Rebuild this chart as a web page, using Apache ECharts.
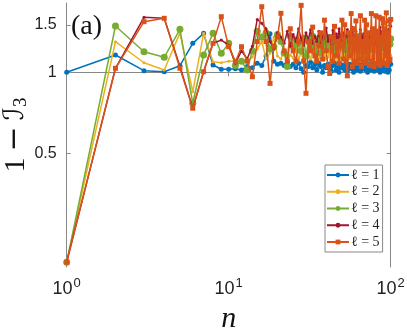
<!DOCTYPE html>
<html>
<head>
<meta charset="utf-8">
<script src="https://cdn.jsdelivr.net/npm/echarts@6/dist/echarts.min.js"></script>
<style>
  html, body { margin: 0; padding: 0; background: #fff; }
  #chart { width: 407px; height: 332px; }
</style>
</head>
<body>
<div id="chart"></div>
<script>
// n = 1..100
var nList = [];
for (var k = 1; k <= 100; k++) nList.push(k);

// 1 - I3 for each l
var l1 = [1.0, 1.159, 1.014, 1.005, 1.058, 1.28, 1.394, 1.064, 1.026, 1.026,
  1.03, 1.02, 1.05, 1.04, 1.08, 1.06, 1.15, 1.39, 1.10, 1.07,
  1.08, 1.06, 1.09, 1.05, 1.07, 1.04, 1.08, 1.03, 1.00, 1.06,
  1.05, 1.09, 1.04, 1.07, 1.02, 1.08, 1.05, 1.00, 1.06, 1.04,
  1.07, 1.03, 1.01, 1.06, 1.08, 1.02, 1.05, 1.00, 1.07, 1.04,
  1.06, 1.02, 1.08, 1.01, 1.05, 1.07, 1.03, 1.06, 1.00, 1.04,
  1.08, 1.02, 1.05, 1.07, 1.01, 1.06, 1.03, 1.08, 1.04, 1.02,
  1.06, 1.00, 1.05, 1.07, 1.02, 1.06, 1.04, 1.08, 1.01, 1.05,
  1.03, 1.07, 1.02, 1.06, 1.04, 1.00, 1.05, 1.08, 1.02, 1.06,
  1.04, 1.01, 1.07, 1.03, 1.05, 1.00, 1.06, 1.02, 1.08, 1.07];
var l2 = [0.198, 1.298, 1.085, 1.02, 1.40, 0.847, 1.394, 1.095, 1.085, 1.10,
  1.10, 1.11, 1.09, 1.14, 1.22, 1.30, 1.12, 1.18, 1.35, 1.15,
  1.12, 1.20, 1.10, 1.16, 1.13, 1.25, 1.11, 1.19, 1.09, 1.14,
  1.17, 1.12, 1.21, 1.10, 1.15, 1.13, 1.18, 1.11, 1.16, 1.12,
  1.14, 1.19, 1.10, 1.17, 1.13, 1.22, 1.11, 1.15, 1.12, 1.18,
  1.13, 1.16, 1.10, 1.20, 1.14, 1.12, 1.17, 1.11, 1.15, 1.19,
  1.12, 1.16, 1.13, 1.18, 1.10, 1.15, 1.21, 1.12, 1.14, 1.17,
  1.11, 1.16, 1.13, 1.19, 1.12, 1.15, 1.10, 1.17, 1.14, 1.18,
  1.12, 1.15, 1.20, 1.11, 1.16, 1.13, 1.18, 1.12, 1.15, 1.17,
  1.13, 1.19, 1.11, 1.16, 1.14, 1.12, 1.18, 1.15, 1.13, 1.16];
var l3 = [0.198, 1.484, 1.192, 1.137, 1.443, 0.768, 1.159, 1.394, 1.176, 1.28,
  1.06, 1.10, 1.02, 1.20, 1.42, 1.35, 1.40, 1.22, 1.24, 1.38,
  1.30, 1.18, 1.05, 1.36, 1.25, 1.32, 1.28, 1.20, 1.34, 1.15,
  1.30, 1.24, 1.36, 1.20, 1.28, 1.33, 1.18, 1.30, 1.25, 1.35,
  1.22, 1.30, 1.27, 1.34, 1.19, 1.31, 1.26, 1.36, 1.23, 1.29,
  1.33, 1.21, 1.28, 1.35, 1.24, 1.30, 1.20, 1.32, 1.27, 1.34,
  1.22, 1.29, 1.36, 1.25, 1.31, 1.19, 1.33, 1.27, 1.30, 1.23,
  1.35, 1.26, 1.30, 1.21, 1.33, 1.28, 1.24, 1.36, 1.29, 1.22,
  1.31, 1.27, 1.34, 1.20, 1.30, 1.25, 1.35, 1.23, 1.32, 1.28,
  1.26, 1.33, 1.22, 1.30, 1.36, 1.24, 1.29, 1.31, 1.27, 1.33];
var l4 = [0.198, 1.035, 1.598, 1.585, 1.05, 0.736, 1.005, 1.28, 1.317, 1.26,
  1.08, 1.20, 1.12, 1.25, 1.57, 1.52, 1.45, 1.30, 1.22, 1.40,
  1.35, 1.28, 1.42, 1.25, 1.38, 1.30, 1.45, 1.33, 1.26, 1.40,
  1.32, 1.44, 1.28, 1.36, 1.30, 1.42, 1.25, 1.38, 1.34, 1.46,
  1.30, 1.37, 1.27, 1.43, 1.33, 1.39, 1.29, 1.45, 1.35, 1.31,
  1.40, 1.28, 1.36, 1.44, 1.30, 1.38, 1.33, 1.47, 1.29, 1.37,
  1.42, 1.31, 1.35, 1.28, 1.44, 1.36, 1.30, 1.39, 1.33, 1.45,
  1.29, 1.38, 1.34, 1.41, 1.30, 1.46, 1.35, 1.32, 1.40, 1.28,
  1.43, 1.36, 1.31, 1.39, 1.34, 1.47, 1.30, 1.37, 1.42, 1.33,
  1.38, 1.31, 1.45, 1.35, 1.40, 1.29, 1.44, 1.36, 1.50, 1.48];
var l5 = [0.198, 1.035, 1.54, 1.585, 1.035, 0.736, 1.005, 1.28, 1.607, 1.244,
  1.095, 1.244, 1.10, 0.963, 1.30, 1.75, 1.30, 0.91, 1.25, 1.35,
  1.654, 1.20, 1.10, 1.45, 1.20, 1.10, 1.30, 1.77, 1.10, 0.836,
  1.30, 1.20, 1.47, 1.15, 1.10, 1.25, 1.40, 1.12, 1.56, 1.20,
  1.05, 0.99, 1.35, 1.10, 1.48, 1.15, 1.30, 1.08, 1.25, 1.56,
  1.12, 1.50, 1.10, 0.97, 1.40, 1.15, 1.65, 1.05, 1.45, 1.10,
  1.55, 1.08, 1.35, 1.12, 1.62, 1.05, 1.30, 1.10, 1.56, 1.08,
  1.50, 1.12, 1.40, 1.06, 1.30, 1.65, 1.10, 1.45, 1.05, 1.38,
  1.62, 1.08, 1.42, 1.12, 1.60, 1.06, 1.35, 1.10, 1.58, 1.52,
  1.08, 1.45, 1.15, 1.66, 1.06, 1.40, 1.10, 1.55, 1.12, 1.57];

var names = ['ℓ = 1', 'ℓ = 2', 'ℓ = 3', 'ℓ = 4', 'ℓ = 5'];
var colors = ['#0072BD', '#EDB120', '#77AC30', '#A2142F', '#D95319'];
var yTicks = [0.5, 1, 1.5];

// y is drawn on log10 scale
var yMin = Math.log10(0.19);
var yMax = Math.log10(1.806);
var yTickVals = yTicks.map(function (v) { return Math.log10(v); });

function toPairs(arr) {
  return arr.map(function (v, i) { return [nList[i], Math.log10(v)]; });
}
function yFmt(v) {
  return String(Number(Math.pow(10, v).toFixed(2)));
}

var axisGray = '#888';
var sym = [
  { symbol: 'circle', size: 5 },
  { symbol: 'circle', size: 3 },
  { symbol: 'circle', size: 7 },
  { symbol: 'circle', size: 3 },
  { symbol: 'rect', size: 5 }
];
var allData = [l1, l2, l3, l4, l5];

var chart = echarts.init(document.getElementById('chart'));
chart.setOption({
  animation: false,
  grid: { left: 66.7, right: 16.3, top: 3, bottom: 65, containLabel: false, outerBoundsMode: 'none' },
  legend: {
    orient: 'vertical',
    left: 325,
    top: 165,
    data: names,
    itemWidth: 22,
    itemHeight: 6,
    itemGap: 2.75,
    padding: [3, 3, 3, 1],
    borderColor: axisGray,
    borderWidth: 1,
    backgroundColor: '#fff',
    textStyle: { fontFamily: 'Liberation Serif, DejaVu Serif, serif', fontSize: 14, lineHeight: 14, color: '#222', padding: [0, 0, 0, -3] }
  },
  graphic: [{
    type: 'text',
    left: 71,
    top: 13,
    style: { text: '(a)', font: '28px "Liberation Serif", serif', fill: '#111' }
  }],
  xAxis: [{
    type: 'log',
    logBase: 10,
    min: 1,
    max: 100,
    position: 'bottom',
    splitLine: { show: false },
    axisLine: { show: true, lineStyle: { color: axisGray } },
    axisTick: { show: true, inside: true, length: 4, lineStyle: { color: axisGray } },
    axisLabel: {
      margin: 10,
      color: '#222',
      fontFamily: 'Liberation Sans, Arial, sans-serif',
      fontSize: 18,
      formatter: function (v) { return '10{s|' + Math.round(Math.log10(v)) + '}'; },
      rich: { s: { fontSize: 13, color: '#222', fontFamily: 'Liberation Sans, Arial, sans-serif', padding: [0, 0, 12, 1] } }
    },
    name: 'n',
    nameLocation: 'middle',
    nameGap: 37,
    nameMoveOverlap: false,
    nameTextStyle: { fontFamily: 'Liberation Serif, serif', fontStyle: 'italic', fontSize: 30, color: '#111' }
  }, {
    type: 'log',
    logBase: 10,
    min: 1,
    max: 100,
    position: 'top',
    splitLine: { show: false },
    axisLine: { show: true, lineStyle: { color: axisGray } },
    axisTick: { show: true, inside: true, length: 4, lineStyle: { color: axisGray } },
    axisLabel: { show: false }
  }],
  yAxis: [{
    type: 'value',
    min: yMin,
    max: yMax,
    position: 'left',
    splitLine: { show: false },
    axisLine: { show: true, lineStyle: { color: axisGray } },
    axisTick: { show: true, inside: true, length: 4, customValues: yTickVals, lineStyle: { color: axisGray } },
    axisLabel: {
      customValues: yTickVals,
      formatter: yFmt,
      margin: 10,
      color: '#222',
      fontFamily: 'Liberation Sans, Arial, sans-serif',
      fontSize: 16
    },
    name: '1\u2009{m|−}\u2009{i|ℐ}{sub|3}',
    nameLocation: 'middle',
    nameRotate: 90,
    nameGap: 36,
    nameMoveOverlap: false,
    nameTextStyle: {
      fontFamily: 'Liberation Serif, serif', fontSize: 30, lineHeight: 30, color: '#111',
      rich: {
        m: { fontFamily: 'DejaVu Serif, serif', fontSize: 30, lineHeight: 30, color: '#111' },
        i: { fontFamily: 'DejaVu Serif, DejaVu Sans, serif', fontSize: 28, lineHeight: 30, color: '#111' },
        sub: { fontFamily: 'Liberation Serif, serif', fontSize: 19, lineHeight: 30, color: '#111', padding: [10, 0, 0, 0] }
      }
    }
  }, {
    type: 'value',
    min: yMin,
    max: yMax,
    position: 'right',
    splitLine: { show: false },
    axisLine: { show: true, lineStyle: { color: axisGray } },
    axisTick: { show: true, inside: true, length: 4, customValues: yTickVals, lineStyle: { color: axisGray } },
    axisLabel: { show: false }
  }],
  series: allData.map(function (arr, i) {
    return {
      name: names[i],
      type: 'line',
      xAxisIndex: 0,
      yAxisIndex: 0,
      data: toPairs(arr),
      symbol: sym[i].symbol,
      symbolSize: sym[i].size,
      showSymbol: true,
      lineStyle: { width: 1.5, color: colors[i] },
      itemStyle: { color: colors[i] },
      z: 2 + i
    };
  })
});
</script>
</body>
</html>
